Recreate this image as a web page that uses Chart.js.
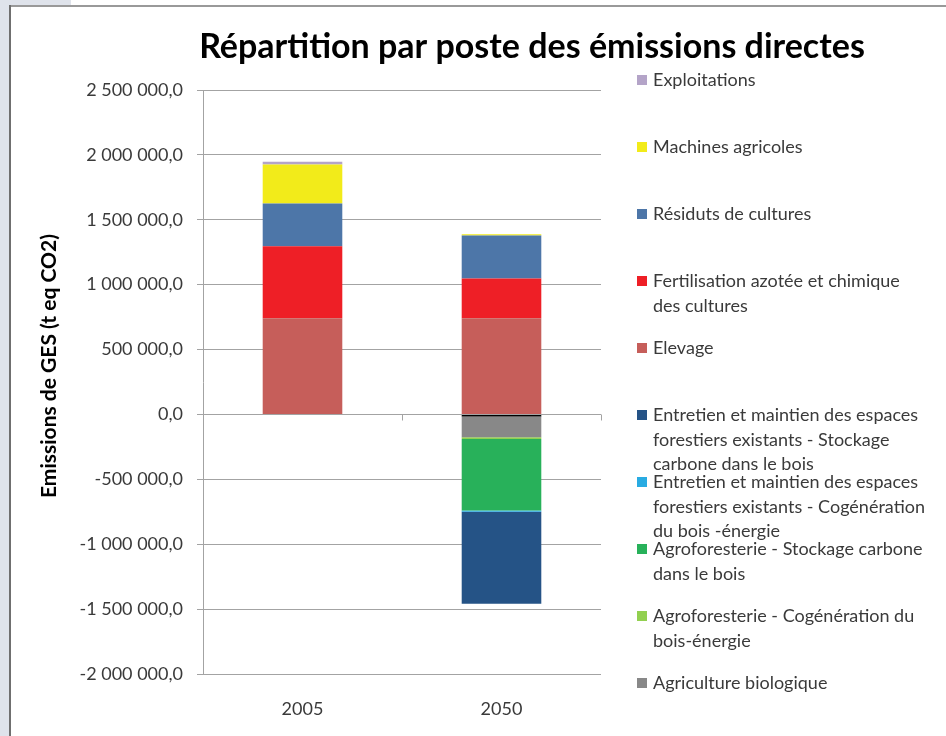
<!DOCTYPE html>
<html lang="fr">
<head>
<meta charset="utf-8">
<title>Répartition par poste des émissions directes</title>
<script src="https://cdn.jsdelivr.net/npm/chart.js@4.4.1/dist/chart.umd.min.js"></script>
<style>
  html, body { margin: 0; padding: 0; background: #fff; }
</style>
</head>
<body>
<canvas id="graphEmissions" width="946" height="736"></canvas>
<script>
// Années
const annees = ['2005', '2050'];

// Emissions par poste (t eq CO2), de la base de la pile vers le haut
const serieSansLegende   = [0, -15000];
const agricultureBio     = [0, -160000];
const agroCogeneration   = [0, -15000];
const agroStockage       = [0, -551000];
const foretCogeneration  = [0, -8000];
const foretStockage      = [0, -710000];
const elevage            = [741000, 741000];
const fertilisation      = [555000, 307000];
const residus            = [330000, 330000];
const machines           = [300000, 10000];
const exploitations      = [21000, 0];

// Axe vertical
const yMin = -2000000;
const yMax = 2500000;
const yPas = 500000;

const titre = 'Répartition par poste des émissions directes';
const titreAxeY = 'Emissions de GES (t eq CO2)';

const police = 'Lato';
const couleurTexte = '#3a3a3a';
const couleurGrille = '#a3a3a3';

// 2 500 000,0
function formatNombre(v) {
    const entier = Math.abs(v).toFixed(0).replace(/\B(?=(\d{3})+(?!\d))/g, ' ');
    return (v < 0 ? '-' : '') + entier + ',0';
}

function serie(label, data, couleur) {
    return { label: label, data: data, backgroundColor: couleur, borderWidth: 0 };
}

const datasets = [
    serie('', serieSansLegende, '#000000'),
    serie('Agriculture biologique', agricultureBio, '#888888'),
    serie('Agroforesterie - Cogénération du bois-énergie', agroCogeneration, '#92d050'),
    serie('Agroforesterie - Stockage carbone dans le bois', agroStockage, '#28b15a'),
    serie('Entretien et maintien des espaces forestiers existants - Cogénération du bois -énergie', foretCogeneration, '#29abe2'),
    serie('Entretien et maintien des espaces forestiers existants - Stockage carbone dans le bois', foretStockage, '#255386'),
    serie('Elevage', elevage, '#c65e5a'),
    serie('Fertilisation azotée et chimique des cultures', fertilisation, '#ee1f26'),
    serie('Résiduts de cultures', residus, '#4d76a8'),
    serie('Machines agricoles', machines, '#f2eb1a'),
    serie('Exploitations', exploitations, '#b4a4c8')
];

// Cadre de la fenêtre autour du graphique
const cadre = {
    id: 'cadre',
    beforeDraw(chart) {
        const c = chart.ctx;
        c.save();
        c.fillStyle = '#ffffff';
        c.fillRect(0, 0, chart.width, chart.height);
        c.fillStyle = '#dfe3eb';
        c.fillRect(0, 0, 9, chart.height);
        c.fillRect(0, 0, 71, 5);
        c.fillStyle = '#999999';
        c.fillRect(9, 5, chart.width - 9, 2);
        c.fillStyle = '#6f6f6f';
        c.fillRect(9, 5, 2, chart.height - 5);
        c.restore();
    }
};

// Titre, titre de l'axe Y et petites graduations sur l'axe des catégories
const textes = {
    id: 'textes',
    afterDraw(chart) {
        const c = chart.ctx;
        const x = chart.scales.x;
        const y = chart.scales.y;
        c.save();
        c.fillStyle = '#000000';
        c.textAlign = 'center';
        c.textBaseline = 'alphabetic';
        c.font = 'bold 34px ' + police;
        c.fillText(titre, 532, 58);

        c.translate(56, 366);
        c.rotate(-Math.PI / 2);
        c.font = 'bold 21px ' + police;
        c.fillText(titreAxeY, 0, 0);
        c.restore();

        // graduations de l'axe horizontal au niveau du zéro
        const y0 = Math.round(y.getPixelForValue(0)) + 0.5;
        const demi = (x.getPixelForTick(1) - x.getPixelForTick(0)) / 2;
        c.save();
        c.strokeStyle = couleurGrille;
        c.lineWidth = 1;
        c.beginPath();
        for (let i = 0; i <= annees.length; i++) {
            const px = Math.round(x.getPixelForTick(0) - demi + i * 2 * demi) + 0.5;
            c.moveTo(px, y0);
            c.lineTo(px, y0 + 6);
        }
        c.stroke();
        c.restore();
    }
};

// Légende à droite, texte coupé sur plusieurs lignes
const legende = {
    id: 'legende',
    afterDraw(chart) {
        const c = chart.ctx;
        const largeurMax = 275;
        const xCarre = 637, xTexte = 653;
        const interligne = 24.5;
        c.save();
        c.font = '18px ' + police;
        c.textAlign = 'left';
        c.textBaseline = 'alphabetic';
        let rang = 0;
        for (let i = chart.data.datasets.length - 1; i >= 0; i--) {
            const ds = chart.data.datasets[i];
            if (!ds.label) continue;
            const yc = 80 + 67 * rang;
            c.fillStyle = ds.backgroundColor;
            c.fillRect(xCarre, yc - 5, 10, 10);

            const mots = ds.label.split(' ');
            const lignes = [];
            let courant = '';
            mots.forEach(m => {
                const essai = courant ? courant + ' ' + m : m;
                if (c.measureText(essai).width > largeurMax && courant) {
                    lignes.push(courant);
                    courant = m;
                } else {
                    courant = essai;
                }
            });
            lignes.push(courant);

            c.fillStyle = couleurTexte;
            lignes.forEach((l, k) => c.fillText(l, xTexte, yc + 6 + k * interligne));
            rang++;
        }
        c.restore();
    }
};

new Chart(document.getElementById('graphEmissions'), {
    type: 'bar',
    data: {
        labels: annees,
        datasets: datasets
    },
    options: {
        responsive: false,
        animation: false,
        events: [],
        barPercentage: 0.4,
        categoryPercentage: 1,
        layout: {
            padding: { left: 0, right: 345, top: 90, bottom: 0 }
        },
        scales: {
            x: {
                stacked: true,
                grid: { display: false, drawTicks: false },
                border: { display: false },
                ticks: {
                    padding: 24,
                    color: couleurTexte,
                    font: { family: police, size: 18 }
                },
                afterFit: scale => { scale.height = 62; }
            },
            y: {
                stacked: true,
                min: yMin,
                max: yMax,
                grid: {
                    color: couleurGrille,
                    lineWidth: 1,
                    tickLength: 6,
                    drawTicks: true
                },
                border: { display: true, color: couleurGrille },
                ticks: {
                    stepSize: yPas,
                    padding: 14,
                    color: couleurTexte,
                    font: { family: police, size: 18 },
                    callback: v => formatNombre(v)
                },
                afterFit: scale => { scale.width = 203; }
            }
        },
        plugins: {
            legend: { display: false },
            title: { display: false },
            tooltip: { enabled: false }
        }
    },
    plugins: [cadre, textes, legende]
});
</script>
</body>
</html>
